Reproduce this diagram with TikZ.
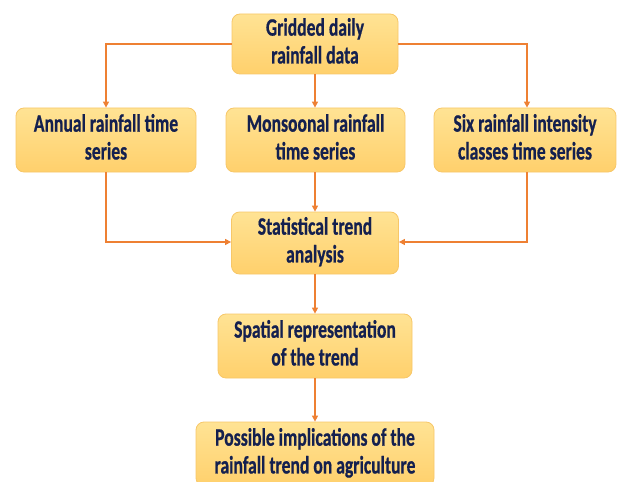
\documentclass[tikz,border=0pt]{standalone}
\usepackage{fontspec}
\setmainfont{Carlito}
\usepackage{graphicx}
\usetikzlibrary{arrows.meta}
\definecolor{txtc}{HTML}{14204F}
\definecolor{arrc}{HTML}{EE8033}
\definecolor{boxtop}{HTML}{FFE394}
\definecolor{boxbot}{HTML}{FFD06C}
\definecolor{boxedge}{HTML}{F7C768}
\newcommand{\tx}[1]{\raisebox{-2pt}{\scalebox{1}[1.42]{\begin{tabular}{@{}c@{}}#1\end{tabular}}}}
\begin{document}
\begin{tikzpicture}[x=1pt,y=-1pt,
  box/.style={draw=boxedge, line width=0.8pt, rounded corners=8pt, top color=boxtop, bottom color=boxbot,
    text=txtc, font=\fontsize{17.6}{19.6}\selectfont\bfseries\addfontfeature{FakeBold=0.8}, align=center, inner sep=0pt},
  conn/.style={draw=arrc, line width=1.3pt, -{Triangle[length=6pt,width=6pt]}}]
\useasboundingbox (0,0) rectangle (617,481);
\node[box, minimum width=166pt, minimum height=60pt] (top) at (315,44) {\tx{Gridded daily\\rainfall data}};
\node[box, minimum width=180pt, minimum height=64pt] (left) at (106,140) {\tx{Annual rainfall time\\series}};
\node[box, minimum width=179pt, minimum height=64pt] (mid) at (315.5,140) {\tx{Monsoonal rainfall\\time series}};
\node[box, minimum width=182pt, minimum height=64pt] (right) at (525,140) {\tx{Six rainfall intensity\\classes time series}};
\node[box, minimum width=167pt, minimum height=62pt] (stat) at (315,243) {\tx{Statistical trend\\analysis}};
\node[box, minimum width=194pt, minimum height=64pt] (spat) at (315,346) {\tx{Spatial representation\\of the trend}};
\node[box, minimum width=238pt, minimum height=64pt] (poss) at (315,454) {\tx{Possible implications of the\\rainfall trend on agriculture}};
\coordinate (tl) at (106,44);
\coordinate (tr) at (527,44);
\coordinate (bl) at (106,242);
\coordinate (br) at (527,242);
\draw[conn] (top.west) -- (tl) -- (left.north);
\draw[conn] (top.east) -- (tr) -- (tr |- right.north);
\draw[conn] (top.south) -- (mid.north -| top.south);
\draw[conn] (left.south) -- (bl) -- (stat.west |- bl);
\draw[conn] (right.south -| br) -- (br) -- (stat.east |- br);
\draw[conn] (mid.south -| stat.north) -- (stat.north);
\draw[conn] (stat.south) -- (spat.north);
\draw[conn] (spat.south) -- (poss.north);
\end{tikzpicture}
\end{document}
